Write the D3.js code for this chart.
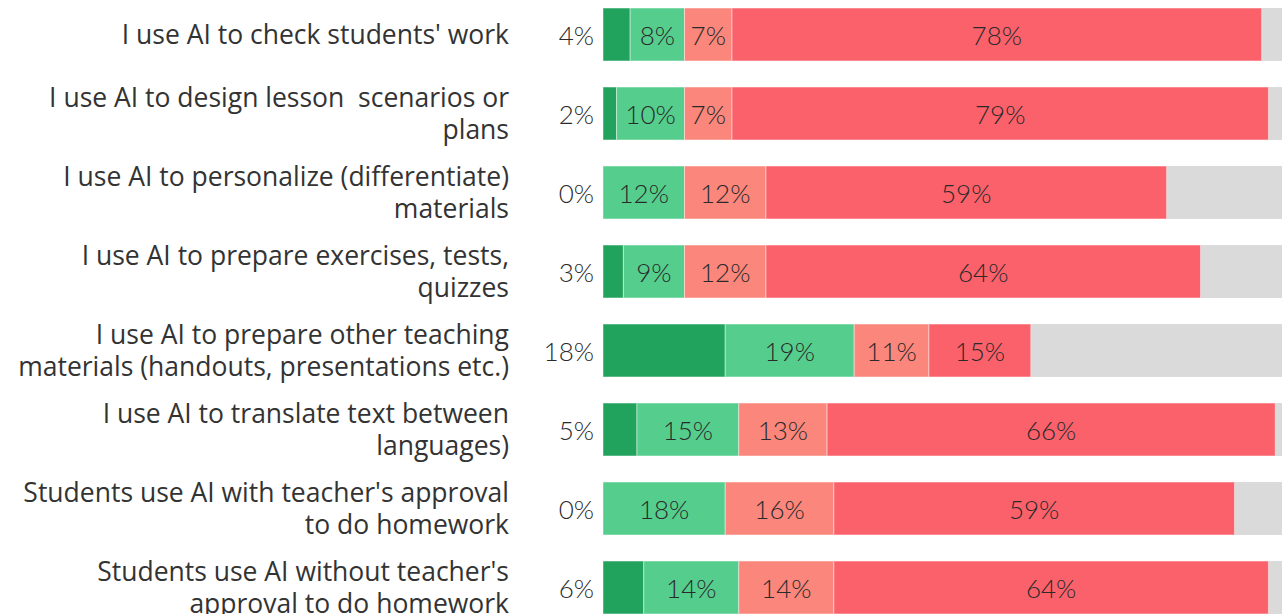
<!DOCTYPE html>
<html>
<head>
<meta charset="utf-8">
<script src="https://cdn.jsdelivr.net/npm/d3@7"></script>
<style>
  html, body { margin: 0; padding: 0; background: #ffffff; overflow: hidden; }
  svg { display: block; }
  .cat { font-family: "Open Sans", Lato, sans-serif; font-size: 26.5px; fill: #333333; white-space: pre; }
  .val { font-family: Lato, "Open Sans", sans-serif; font-size: 26px; font-weight: 300; fill: #2a2a2a; }
</style>
</head>
<body>
<svg id="chart" width="1285" height="614"></svg>
<script>
// Survey statements, one bar per statement ("\n" marks a line break)
const categories = [
  "I use AI to check students' work",
  "I use AI to design lesson  scenarios or\nplans",
  "I use AI to personalize (differentiate)\nmaterials",
  "I use AI to prepare exercises, tests,\nquizzes",
  "I use AI to prepare other teaching\nmaterials (handouts, presentations etc.)",
  "I use AI to translate text between\nlanguages)",
  "Students use AI with teacher's approval\nto do homework",
  "Students use AI without teacher's\napproval to do homework"
];

// Answer shares in percent, from most frequent use to no use
const seriesNames = ["Often", "Sometimes", "Rarely", "Never"];
const often     = [4, 2, 0, 3, 18, 5, 0, 6];
const sometimes = [8, 10, 12, 9, 19, 15, 18, 14];
const rarely    = [7, 7, 12, 12, 11, 13, 16, 14];
const never     = [78, 79, 59, 64, 15, 66, 59, 64];

const seriesColors = ["#21a35e", "#55ce8d", "#fb867b", "#fb616b"];
const trackColor = "#dadada";

const rows = categories.map((c, i) => ({
  category: c,
  Often: often[i],
  Sometimes: sometimes[i],
  Rarely: rarely[i],
  Never: never[i]
}));

const svg = d3.select("#chart");

const x = d3.scaleLinear().domain([0, 100]).range([603, 1282]);
const y = d3.scaleBand()
  .domain(categories)
  .range([-5, 627])
  .paddingInner(0.33)
  .paddingOuter(0.165);

const stacked = d3.stack().keys(seriesNames)(rows);

// Grey track covering the full 0–100% range behind each bar
svg.append("g")
  .selectAll("rect")
  .data(rows)
  .join("rect")
  .attr("x", x(0))
  .attr("y", d => y(d.category))
  .attr("width", x(100) - x(0))
  .attr("height", y.bandwidth())
  .attr("fill", trackColor);

// Stacked answer segments
const layers = svg.append("g")
  .selectAll("g")
  .data(stacked)
  .join("g")
  .attr("fill", (d, i) => seriesColors[i]);

layers.selectAll("rect")
  .data(d => d)
  .join("rect")
  .attr("x", d => x(d[0]))
  .attr("y", d => y(d.data.category))
  .attr("width", d => Math.max(0, x(d[1]) - x(d[0])))
  .attr("height", y.bandwidth())
  .attr("stroke", "rgba(255,255,255,0.45)")
  .attr("stroke-width", 1);

// Value labels: first series sits left of the bar, the others centred in their segment
const labels = svg.append("g");
stacked.forEach((layer, si) => {
  labels.selectAll(null)
    .data(layer)
    .join("text")
    .attr("class", "val")
    .attr("x", d => si === 0 ? x(0) - 9 : (x(d[0]) + x(d[1])) / 2)
    .attr("y", d => y(d.data.category) + y.bandwidth() / 2)
    .attr("dy", "0.42em")
    .attr("text-anchor", si === 0 ? "end" : "middle")
    .text(d => (d[1] - d[0]) + "%");
});

// Category labels, right-aligned against the value column
const lineGap = 32;
const cats = svg.append("g")
  .selectAll("text")
  .data(categories)
  .join("text")
  .attr("class", "cat")
  .attr("text-anchor", "end")
  .attr("x", 509)
  .attr("y", d => y(d) + y.bandwidth() / 2);

cats.each(function(d) {
  const lines = d.split("\n");
  const t = d3.select(this);
  const y0 = y(d) + y.bandwidth() / 2 - (lines.length - 1) * lineGap / 2;
  lines.forEach((line, k) => {
    t.append("tspan")
      .attr("x", 509)
      .attr("y", y0 + k * lineGap)
      .attr("dy", "0.36em")
      .text(line);
  });
});
</script>
</body>
</html>
